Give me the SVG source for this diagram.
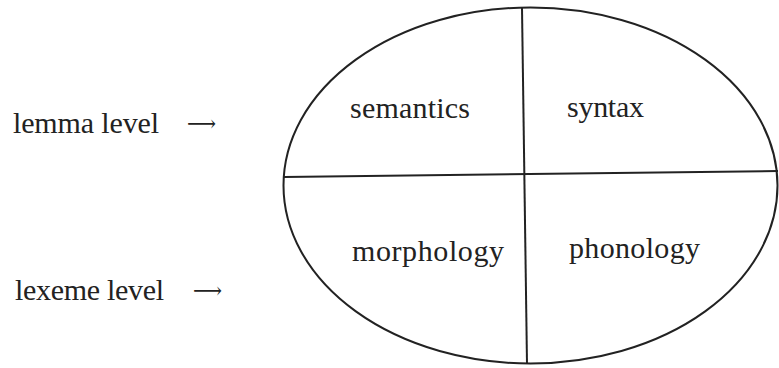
<svg xmlns="http://www.w3.org/2000/svg" width="779" height="368" viewBox="0 0 779 368">
<style>
text{font-family:"Liberation Serif","Times New Roman",serif;font-size:30px;fill:#222}
text.arr{font-family:"DejaVu Serif","DejaVu Sans",serif;font-size:22px}
.ln{fill:none;stroke:#222;stroke-width:2}
</style>
<rect width="779" height="368" fill="#fff"/>
<g id="labels">
<text x="13" y="133" textLength="146">lemma level</text>
<text class="arr" x="187" y="131" textLength="29" lengthAdjust="spacingAndGlyphs">⟶</text>
<text x="15" y="300" textLength="149">lexeme level</text>
<text class="arr" x="193" y="298" textLength="29" lengthAdjust="spacingAndGlyphs">⟶</text>
</g>
<g id="diagram">
<ellipse class="ln" cx="530.5" cy="185.5" rx="247" ry="178"/>
<line class="ln" x1="522" y1="8" x2="527" y2="364"/>
<line class="ln" x1="284" y1="177" x2="778" y2="171"/>
</g>
<g id="semantics"><text x="350" y="118" textLength="120">semantics</text></g>
<g id="syntax"><text x="567" y="117" textLength="77">syntax</text></g>
<g id="morphology"><text x="352" y="261" textLength="152">morphology</text></g>
<g id="phonology"><text x="569" y="258" textLength="131">phonology</text></g>
</svg>
